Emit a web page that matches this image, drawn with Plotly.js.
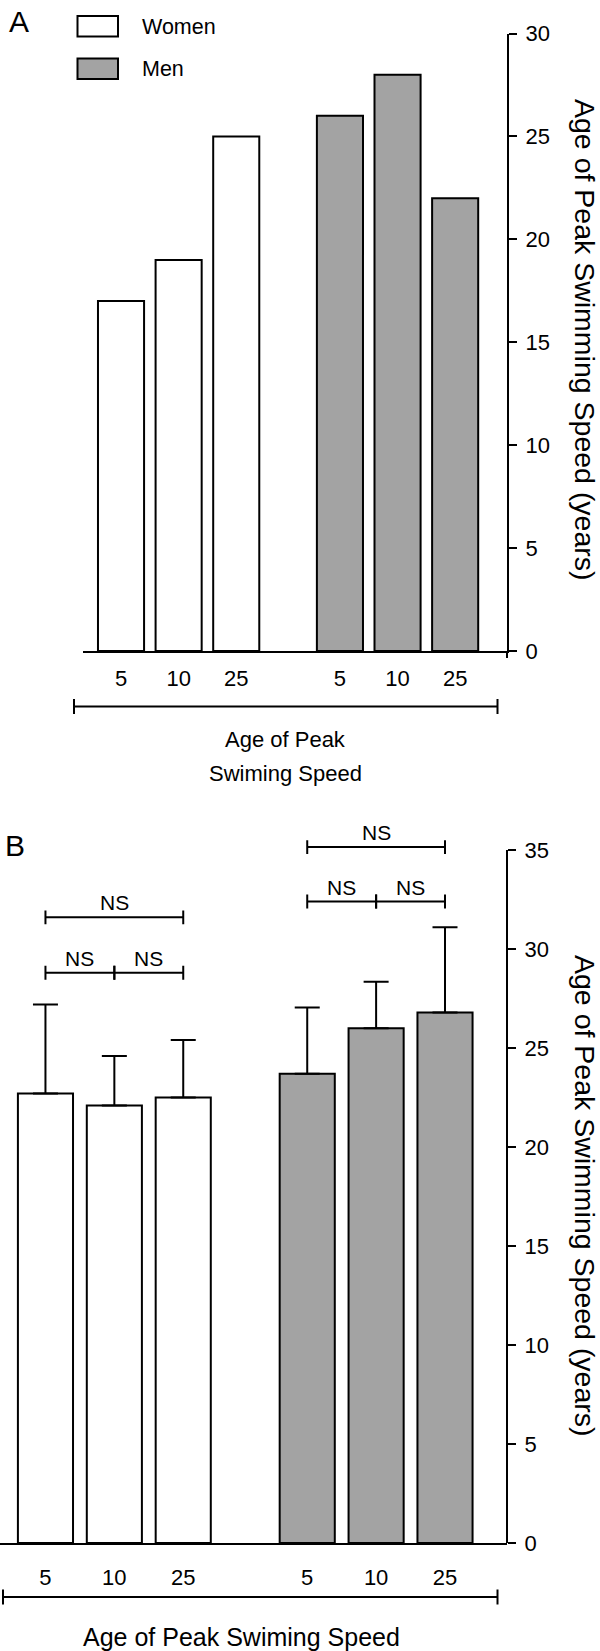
<!DOCTYPE html>
<html>
<head>
<meta charset="utf-8">
<script src="https://cdn.plot.ly/plotly-3.0.1.min.js"></script>
<style>html,body{margin:0;padding:0;background:#fff;}#chart{width:600px;height:1651px;}</style>
</head>
<body>
<div id="chart"></div>
<script>
// ---------------- data ----------------
const categories = ['5', '10', '25'];
const groups = ['Women', 'Men'];
const panelA_women = [17, 19, 25];
const panelA_men = [26, 28, 22];
const panelB_women = [22.7, 22.1, 22.5];
const panelB_men = [23.7, 26.0, 26.8];
const panelB_women_sd = [4.5, 2.5, 2.9];
const panelB_men_sd = [3.35, 2.35, 4.3];
const nsLabel = 'NS';
const nsPairs = [[0, 1], [1, 2], [0, 2]];
const nsLevelsWomen = [28.8, 28.8, 31.6];
const nsLevelsMen = [32.4, 32.4, 35.15];
const yTicksA = [0, 5, 10, 15, 20, 25, 30];
const yTicksB = [0, 5, 10, 15, 20, 25, 30, 35];
const yTitle = 'Age of Peak Swimming Speed (years)';
const xTitleA = ['Age of Peak', 'Swiming Speed'];
const xTitleB = 'Age of Peak Swiming Speed';

// ---------------- layout helpers ----------------
const W = 600, H = 1651, R = 93;
const PW = W - R;
const px2x = p => p / PW;
const py2y = p => 1 - p / H;
const GROUP_GAP = 0.8;
const pos = (g, i) => g * (categories.length + GROUP_GAP) + i;
const posW = categories.map((c, i) => pos(0, i));
const posM = categories.map((c, i) => pos(1, i));
const allPos = posW.concat(posM);
const allText = categories.concat(categories);
const FONT = 'Liberation Sans, Arial, Helvetica, sans-serif';
const GRAY = '#a3a3a3';
const barLine = {color: '#000', width: 2};

const traces = [
  {type: 'bar', x: posW, y: panelA_women, width: 0.8, name: groups[0], xaxis: 'x', yaxis: 'y',
   marker: {color: '#fff', line: barLine}, showlegend: false, hoverinfo: 'y'},
  {type: 'bar', x: posM, y: panelA_men, width: 0.8, name: groups[1], xaxis: 'x', yaxis: 'y',
   marker: {color: GRAY, line: barLine}, showlegend: false, hoverinfo: 'y'},
  {type: 'bar', x: posW, y: panelB_women, width: 0.8, name: groups[0], xaxis: 'x2', yaxis: 'y2',
   marker: {color: '#fff', line: barLine}, showlegend: false, hoverinfo: 'y',
   error_y: {type: 'data', symmetric: false, array: panelB_women_sd, arrayminus: panelB_women_sd.map(() => 0),
             color: '#000', thickness: 2, width: 12.5}},
  {type: 'bar', x: posM, y: panelB_men, width: 0.8, name: groups[1], xaxis: 'x2', yaxis: 'y2',
   marker: {color: GRAY, line: barLine}, showlegend: false, hoverinfo: 'y',
   error_y: {type: 'data', symmetric: false, array: panelB_men_sd, arrayminus: panelB_men_sd.map(() => 0),
             color: '#000', thickness: 2, width: 12.5}}
];

const xRange = [-0.66, 6.70];
const commonX = {range: xRange, showgrid: false, zeroline: false, showline: true, linecolor: '#000', linewidth: 2,
  ticks: '', tickvals: allPos, ticktext: allText, tickfont: {family: FONT, size: 22, color: '#000'}, fixedrange: true};
const commonY = {side: 'right', showgrid: false, zeroline: false, ticks: 'outside', ticklen: 8, tickwidth: 2,
  tickcolor: '#000', linecolor: '#000', linewidth: 2, tickfont: {family: FONT, size: 22, color: '#000'},
  ticklabelstandoff: 4, fixedrange: true};

const shapes = [];
const annotations = [];
const blk = {color: '#000', width: 2};

// B y-axis line (0..35)
shapes.push({type: 'line', xref: 'paper', yref: 'y2', x0: 1, x1: 1, y0: 0, y1: yTicksB[yTicksB.length - 1], line: blk});
// small extension of A's y-axis line below the baseline
shapes.push({type: 'line', xref: 'paper', yref: 'paper', x0: 1, x1: 1, y0: py2y(651), y1: py2y(658), line: blk});

// NS brackets
function addBrackets(positions, levels) {
  const tick = 0.35;
  nsPairs.forEach((pr, k) => {
    const xa = positions[pr[0]], xb = positions[pr[1]], y = levels[k];
    shapes.push({type: 'line', xref: 'x2', yref: 'y2', x0: xa, x1: xb, y0: y, y1: y, line: blk});
    shapes.push({type: 'line', xref: 'x2', yref: 'y2', x0: xa, x1: xa, y0: y - tick, y1: y + tick, line: blk});
    shapes.push({type: 'line', xref: 'x2', yref: 'y2', x0: xb, x1: xb, y0: y - tick, y1: y + tick, line: blk});
    annotations.push({xref: 'x2', yref: 'y2', x: (xa + xb) / 2, y: y, text: nsLabel, showarrow: false,
      yanchor: 'bottom', yshift: 1, font: {family: FONT, size: 21, color: '#000'}});
  });
}
addBrackets(posW, nsLevelsWomen);
addBrackets(posM, nsLevelsMen);

// x-axis group brackets
function hBracket(x0, x1, yp) {
  const e = 7.5 / H;
  shapes.push({type: 'line', xref: 'paper', yref: 'paper', x0: x0, x1: x1, y0: yp, y1: yp, line: blk});
  shapes.push({type: 'line', xref: 'paper', yref: 'paper', x0: x0, x1: x0, y0: yp - e, y1: yp + e, line: blk});
  shapes.push({type: 'line', xref: 'paper', yref: 'paper', x0: x1, x1: x1, y0: yp - e, y1: yp + e, line: blk});
}
hBracket(px2x(74), px2x(497.5), py2y(706.5));
hBracket(px2x(3), px2x(497.5), py2y(1597));

// legend boxes
shapes.push({type: 'rect', xref: 'paper', yref: 'paper', x0: px2x(77.5), x1: px2x(118), y0: py2y(16), y1: py2y(36.5),
  fillcolor: '#fff', line: blk});
shapes.push({type: 'rect', xref: 'paper', yref: 'paper', x0: px2x(77.5), x1: px2x(118), y0: py2y(58.5), y1: py2y(79),
  fillcolor: GRAY, line: blk});
annotations.push({xref: 'paper', yref: 'paper', x: px2x(140), y: py2y(27), xanchor: 'left', yanchor: 'middle',
  text: groups[0], showarrow: false, font: {family: FONT, size: 21.5, color: '#000'}});
annotations.push({xref: 'paper', yref: 'paper', x: px2x(140), y: py2y(69), xanchor: 'left', yanchor: 'middle',
  text: groups[1], showarrow: false, font: {family: FONT, size: 21.5, color: '#000'}});

// panel letters
annotations.push({xref: 'paper', yref: 'paper', x: px2x(19), y: py2y(21), text: 'A', showarrow: false,
  xanchor: 'center', yanchor: 'middle', font: {family: FONT, size: 30, color: '#000'}});
annotations.push({xref: 'paper', yref: 'paper', x: px2x(14.5), y: py2y(845), text: 'B', showarrow: false,
  xanchor: 'center', yanchor: 'middle', font: {family: FONT, size: 30, color: '#000'}});

// x titles
annotations.push({xref: 'paper', yref: 'paper', x: px2x(285), y: py2y(739), text: xTitleA[0], showarrow: false,
  xanchor: 'center', yanchor: 'middle', font: {family: FONT, size: 22, color: '#000'}});
annotations.push({xref: 'paper', yref: 'paper', x: px2x(285), y: py2y(773), text: xTitleA[1], showarrow: false,
  xanchor: 'center', yanchor: 'middle', font: {family: FONT, size: 22, color: '#000'}});
annotations.push({xref: 'paper', yref: 'paper', x: px2x(241), y: py2y(1637), text: xTitleB, showarrow: false,
  xanchor: 'center', yanchor: 'middle', font: {family: FONT, size: 25, color: '#000'}});

// y titles (rotated clockwise)
annotations.push({xref: 'paper', yref: 'paper', x: px2x(585), y: py2y(340), text: yTitle, textangle: 90,
  showarrow: false, xanchor: 'center', yanchor: 'middle', font: {family: FONT, size: 28.5, color: '#000'}});
annotations.push({xref: 'paper', yref: 'paper', x: px2x(585), y: py2y(1196), text: yTitle, textangle: 90,
  showarrow: false, xanchor: 'center', yanchor: 'middle', font: {family: FONT, size: 28.5, color: '#000'}});

const layout = {
  width: W, height: H,
  margin: {l: 0, r: R, t: 0, b: 0, pad: 0},
  paper_bgcolor: '#fff', plot_bgcolor: 'rgba(0,0,0,0)',
  font: {family: FONT, color: '#000'},
  showlegend: false,
  bargap: 0,
  xaxis: Object.assign({}, commonX, {domain: [px2x(83), 1], anchor: 'y', ticklabelstandoff: 7}),
  yaxis: Object.assign({}, commonY, {domain: [py2y(651), py2y(33.5)], range: [0, 30], anchor: 'x',
    showline: true, tickvals: yTicksA}),
  xaxis2: Object.assign({}, commonX, {domain: [0, 1], anchor: 'y2', ticklabelstandoff: 14}),
  yaxis2: Object.assign({}, commonY, {domain: [py2y(1543), py2y(814.4)], range: [0, 36.8], anchor: 'x2',
    showline: false, tickvals: yTicksB}),
  shapes: shapes,
  annotations: annotations
};

Plotly.newPlot('chart', traces, layout, {staticPlot: true, displayModeBar: false});
</script>
</body>
</html>
